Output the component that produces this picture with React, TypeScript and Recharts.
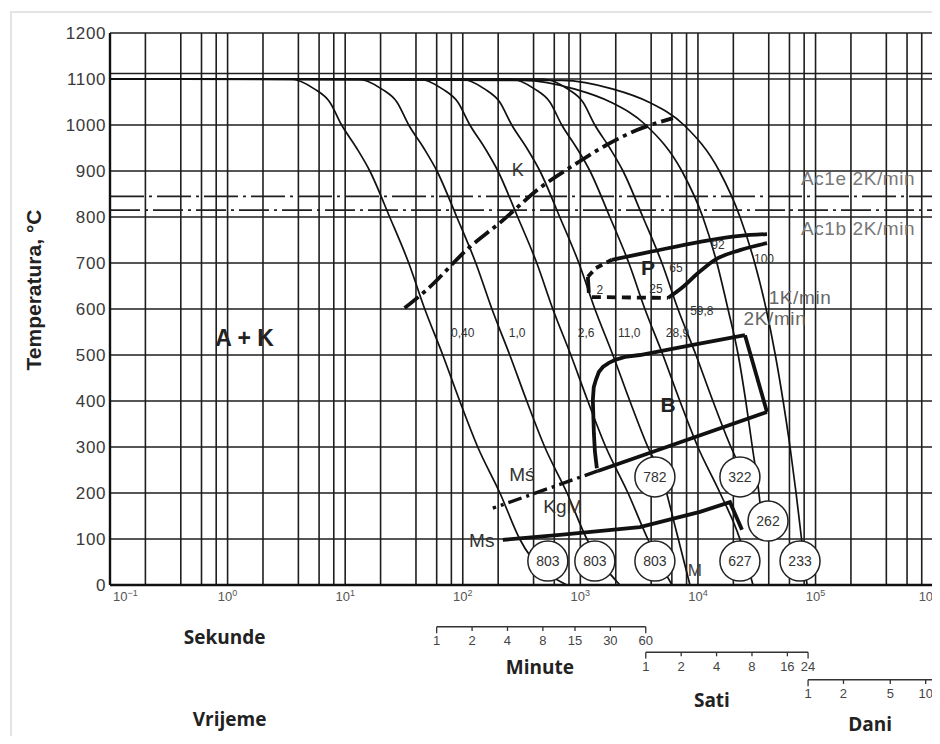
import React from 'react';
import {
  ComposedChart,
  Line,
  XAxis,
  YAxis,
  CartesianGrid,
  ReferenceLine,
  ReferenceDot,
} from 'recharts';

const FONT = '"Liberation Sans", Arial, Helvetica, sans-serif';
const BOLD_FONT = '"Open Sans", "Noto Sans", sans-serif';

// ---------- axes ----------
const timeGridTicks = [
  0.1, 0.2, 0.4, 0.6, 0.8,
  1, 2, 4, 6, 8,
  10, 20, 40, 60, 80,
  100, 200, 400, 600, 800,
  1000, 2000, 4000, 6000, 8000,
  10000, 20000, 40000, 60000, 80000,
  100000, 200000, 400000, 600000, 800000,
  1000000,
];
const tempTicks = [0, 100, 200, 300, 400, 500, 600, 700, 800, 900, 1000, 1100, 1200];

// secondary time scales (minutes, hours, days)
const minuteTicks = [1, 2, 4, 8, 15, 30, 60];
const hourTicks = [1, 2, 4, 8, 16, 24];
const dayTicks = [1, 2, 5, 10];

// ---------- cooling curves [time s, temperature °C] ----------
type Pt = [number, number];
const curve040: Pt[] = [
  [0.1, 1100], [3.37, 1100], [5.5, 1078], [7.38, 1050], [9.33, 1000], [12.5, 950], [16.2, 900],
  [23.9, 800], [34.7, 700], [47.5, 600], [67.6, 500], [94.2, 400], [134, 300], [207, 200], [305, 100], [767, 0],
];
const curve10: Pt[] = [
  [0.1, 1100], [12.5, 1100], [20.5, 1078], [27.5, 1050], [34.7, 1000], [46.5, 950], [60.3, 900],
  [88.9, 800], [129, 700], [177, 600], [251, 500], [350, 400], [498, 300], [770, 200], [1135, 100], [2170, 0],
];
const curve26: Pt[] = [
  [0.1, 1100], [41.4, 1100], [67.5, 1078], [90.6, 1050], [115, 1000], [154, 950], [199, 900],
  [293, 800], [426, 700], [583, 600], [830, 500], [1157, 400], [1646, 300], [2542, 200], [3745, 100], [6010, 0],
];
const curve110: Pt[] = [
  [0.1, 1100], [94.3, 1100], [154, 1078], [206, 1050], [261, 1000], [350, 950], [453, 900],
  [668, 800], [971, 700], [1329, 600], [1891, 500], [2635, 400], [3748, 300], [4943, 235], [6500, 120], [8550, 0],
];
const curve289: Pt[] = [
  [0.1, 1100], [251, 1100], [410, 1078], [550, 1050], [695, 1000], [931, 950], [1207, 900],
  [1781, 800], [2585, 700], [3539, 600], [5036, 500], [7018, 400], [9983, 300], [15420, 200], [22720, 100], [29370, 0],
];
const curve598: Pt[] = [
  [0.1, 1100], [480, 1100], [783, 1078], [1050, 1050], [1328, 1000], [1779, 950], [2305, 900],
  [3401, 800], [4938, 700], [6759, 600], [9619, 500], [13400, 400], [19070, 300], [25120, 235],
];
const curve2Kmin: Pt[] = [
  [0.1, 1100], [330, 1097], [900, 1078], [1800, 1050], [3600, 1000], [7300, 900], [11000, 800],
  [14500, 700], [18000, 600], [22000, 500], [25500, 400], [29000, 300], [33000, 200], [35000, 140],
];
const curve1Kmin: Pt[] = [
  [0.1, 1100], [700, 1097], [1900, 1078], [3800, 1050], [7600, 1000], [15200, 900], [22800, 800],
  [30400, 700], [38000, 600], [45500, 500], [53000, 400], [60700, 300], [68300, 200], [76000, 100], [84700, 0],
];
const coolingCurves = [curve040, curve10, curve26, curve110, curve289, curve598, curve2Kmin, curve1Kmin];

// ---------- transformation boundaries ----------
const carbideLine: Pt[] = [
  [32, 602], [49, 641], [115, 735], [206, 787], [452, 863], [933, 917], [1680, 957], [3030, 989], [6120, 1015],
];
const pearliteNose: Pt[] = [[1181, 635], [1158, 670]];
const pearliteStartDashed: Pt[] = [[1158, 670], [1355, 689], [1854, 707]];
const pearliteStart: Pt[] = [[1854, 707], [3900, 724], [10400, 746], [22750, 759], [38650, 763]];
const pearliteEndDashed: Pt[] = [[1253, 626], [5560, 624]];
const pearliteEnd: Pt[] = [[5560, 624], [7310, 646], [9800, 676], [13950, 707], [22750, 728], [38650, 743]];
const bainiteStart: Pt[] = [
  [1381, 254], [1330, 290], [1303, 330], [1277, 402], [1300, 430], [1356, 446], [1436, 463], [1554, 474],
  [1748, 483], [1966, 489], [2393, 496], [3209, 500], [9060, 522], [25120, 543],
];
const bainiteRight: Pt[] = [[25120, 543], [38650, 376]];
const bainiteEnd: Pt[] = [[38650, 376], [1409, 248]];
const msPrimeLine: Pt[] = [[1409, 248], [180, 167]];
const msLine: Pt[] = [[219, 98], [670, 109], [3209, 126], [10400, 159], [18720, 180], [23680, 120]];

// ---------- hardness values (HV) ----------
const hardness = [
  { t: 529, T: 52, v: '803' },
  { t: 1328, T: 52, v: '803' },
  { t: 4305, T: 52, v: '803' },
  { t: 4305, T: 235, v: '782' },
  { t: 22750, T: 235, v: '322' },
  { t: 22750, T: 52, v: '627' },
  { t: 39430, T: 139, v: '262' },
  { t: 73800, T: 52, v: '233' },
];

const toData = (pts: Pt[]) => pts.map(([t, T]) => ({ t, T }));

const renderXTick = (props: any) => {
  const { x, y, payload } = props;
  const lv = Math.log10(payload.value);
  const e = Math.round(lv);
  if (Math.abs(lv - e) > 0.001) return <g />;
  const first = e === -1;
  const last = e === 6;
  return (
    <text
      x={first ? x + 3 : last ? x + 5 : x}
      y={y + 8}
      textAnchor={first ? 'start' : last ? 'end' : 'middle'}
      fontSize={13}
      fill="#555"
      fontFamily={FONT}
    >
      10
      <tspan dy={-5} fontSize={9}>
        {e < 0 ? '−' + Math.abs(e) : String(e)}
      </tspan>
    </text>
  );
};

type NoteOpts = {
  size?: number;
  weight?: string | number;
  fill?: string;
  anchor?: 'start' | 'middle' | 'end';
  family?: string;
  spacing?: number;
};

const note = (key: string, t: number, T: number, text: string, o: NoteOpts = {}) => (
  <ReferenceDot
    key={key}
    x={t}
    y={T}
    r={0}
    fill="none"
    stroke="none"
    ifOverflow="visible"
    isFront
    label={{
      content: (p: any) => {
        const vb = p.viewBox || {};
        const cx = (vb.x ?? 0) + (vb.width ?? 0) / 2;
        const cy = (vb.y ?? 0) + (vb.height ?? 0) / 2;
        return (
          <text
            x={cx}
            y={cy}
            dy="0.35em"
            textAnchor={o.anchor || 'middle'}
            fontSize={o.size || 14}
            fontWeight={o.weight || 'normal'}
            fill={o.fill || '#333'}
            fontFamily={o.family || FONT}
            letterSpacing={o.spacing || 0}
          >
            {text}
          </text>
        );
      },
    }}
  />
);

const seg = (key: string, x1: number, y1: number, x2: number, y2: number, w = 1.5) => (
  <ReferenceLine
    key={key}
    segment={[{ x: x1, y: y1 }, { x: x2, y: y2 }]}
    stroke="#333"
    strokeWidth={w}
    ifOverflow="visible"
  />
);

const boundary = (key: string, pts: Pt[], dash?: string, type: any = 'linear', w = 3.8) => (
  <Line
    key={key}
    data={toData(pts)}
    dataKey="T"
    type={type}
    stroke="#111"
    strokeWidth={w}
    strokeDasharray={dash}
    dot={false}
    activeDot={false}
    legendType="none"
    isAnimationActive={false}
  />
);

const MIN_Y = -91;
const HOUR_Y = -146;
const DAY_Y = -206;

export default function App() {
  return (
    <div style={{ position: 'relative', width: 930, height: 728, overflow: 'hidden' }}>
      <div style={{ position: 'absolute', left: 2, top: 3, width: 928, height: 2, background: '#e4e4e4' }} />
      <div style={{ position: 'absolute', left: 2, top: 3, width: 2, height: 725, background: '#e4e4e4' }} />
      <div style={{ position: 'absolute', left: 4, top: 5 }}>
        <ComposedChart width={926} height={723} margin={{ top: 20, right: 0, left: 0, bottom: 121 }}>
          <CartesianGrid stroke="#1e1e1e" strokeWidth={1.6} />
          <XAxis
            dataKey="t"
            type="number"
            scale="log"
            domain={[0.1, 1.1e6]}
            allowDataOverflow
            ticks={timeGridTicks}
            interval={0}
            tick={renderXTick}
            tickLine={false}
            axisLine={{ stroke: '#111', strokeWidth: 2.4 }}
            height={30}
          />
          <YAxis
            type="number"
            domain={[0, 1200]}
            allowDataOverflow
            ticks={tempTicks}
            interval={0}
            width={98}
            tickLine={false}
            tickSize={2}
            tickMargin={2}
            axisLine={{ stroke: '#111', strokeWidth: 2.4 }}
            tick={{ fontSize: 17, fill: '#3a3a3a', fontFamily: FONT, letterSpacing: 0.6 }}
            label={{
              content: (p: any) => {
                const vb = p.viewBox || { x: 0, y: 20, width: 98, height: 552 };
                const x = vb.x + 21;
                const y = vb.y + vb.height / 2 - 19;
                return (
                  <text
                    x={x}
                    y={y}
                    transform={`rotate(-90 ${x} ${y})`}
                    textAnchor="middle"
                    dominantBaseline="central"
                    fontSize={21}
                    fontWeight="bold"
                    fontFamily={FONT}
                    fill="#222"
                  >
                    Temperatura, °C
                  </text>
                );
              },
            }}
          />

          {/* austenitizing and Ac1 lines */}
          <ReferenceLine y={1112} stroke="#1e1e1e" strokeWidth={1.6} />
          <ReferenceLine y={845} stroke="#1e1e1e" strokeWidth={1.8} strokeDasharray="34 5 3 5" />
          <ReferenceLine y={815} stroke="#1e1e1e" strokeWidth={1.8} strokeDasharray="30 5 3 5" />

          {/* cooling curves */}
          {coolingCurves.map((c, i) => (
            <Line
              key={'c' + i}
              data={toData(c)}
              dataKey="T"
              type="monotone"
              stroke="#111"
              strokeWidth={1.7}
              dot={false}
              activeDot={false}
              legendType="none"
              isAnimationActive={false}
            />
          ))}

          {/* phase boundaries */}
          {boundary('k', carbideLine, '18 5 4 5', 'monotone')}
          {boundary('pn', pearliteNose)}
          {boundary('psd', pearliteStartDashed, '7 5')}
          {boundary('ps', pearliteStart, undefined, 'monotone')}
          {boundary('ped', pearliteEndDashed, '9 6')}
          {boundary('pe', pearliteEnd, undefined, 'monotone')}
          {boundary('bs', bainiteStart)}
          {boundary('br', bainiteRight)}
          {boundary('be', bainiteEnd)}
          {boundary('msp', msPrimeLine, '14 5 3 5', 'linear', 3.4)}
          {boundary('ms', msLine, undefined, 'linear')}

          {/* hardness circles */}
          {hardness.map((h, i) => (
            <ReferenceDot
              key={'h' + i}
              x={h.t}
              y={h.T}
              r={20}
              fill="#fff"
              stroke="#222"
              strokeWidth={1.5}
              ifOverflow="visible"
              isFront
              label={{
                content: (p: any) => {
                  const vb = p.viewBox || {};
                  return (
                    <text
                      x={(vb.x ?? 0) + (vb.width ?? 0) / 2}
                      y={(vb.y ?? 0) + (vb.height ?? 0) / 2}
                      dy="0.35em"
                      textAnchor="middle"
                      fontSize={14}
                      fill="#333"
                      fontFamily={FONT}
                    >
                      {h.v}
                    </text>
                  );
                },
              }}
            />
          ))}

          {/* region and curve labels */}
          {note('ak', 1.395, 537, 'A + K', { size: 23, weight: 'bold', fill: '#222' })}
          {note('K', 294, 902, 'K', { size: 18 })}
          {note('P', 3753, 689, 'P', { size: 21, weight: 'bold', fill: '#222' })}
          {note('B', 5560, 393, 'B', { size: 21, weight: 'bold', fill: '#222' })}
          {note('Ms', 145, 96, 'Ms', { size: 19 })}
          {note('Msp', 318, 241, 'Mś', { size: 19 })}
          {note('KgM', 710, 170, 'KgM', { size: 19 })}
          {note('M', 9420, 33, 'M', { size: 17, fill: '#444' })}
          {note('l1', 100, 548, '0,40', { size: 12 })}
          {note('l2', 290, 548, '1,0', { size: 12 })}
          {note('l3', 1120, 548, '2,6', { size: 12 })}
          {note('l4', 2600, 548, '11,0', { size: 12 })}
          {note('l5', 6700, 548, '28,9', { size: 12 })}
          {note('l6', 10800, 596, '59,8', { size: 12 })}
          {note('p2', 1466, 641, '2', { size: 12 })}
          {note('p25', 4395, 643, '25', { size: 12 })}
          {note('p65', 6500, 689, '65', { size: 12 })}
          {note('p92', 14790, 739, '92', { size: 12 })}
          {note('p100', 36470, 709, '100', { size: 12 })}
          {note('k1', 73800, 626, '1K/min', { size: 19, fill: '#666', spacing: 0.6 })}
          {note('k2', 45200, 580, '2K/min', { size: 19, fill: '#666', spacing: 0.6 })}
          {note('ac1e', 230000, 885, 'Ac1e 2K/min', { size: 19, fill: '#777', spacing: 0.6 })}
          {note('ac1b', 230000, 776, 'Ac1b 2K/min', { size: 19, fill: '#777', spacing: 0.6 })}

          {/* secondary time scales */}
          {seg('minL', 60, MIN_Y, 3600, MIN_Y)}
          {minuteTicks.map((m, i) =>
            seg('minT' + i, m * 60, MIN_Y, m * 60, MIN_Y - (i === 0 || i === minuteTicks.length - 1 ? 14 : 9), 1.3)
          )}
          {minuteTicks.map((m) => note('minN' + m, m * 60, -121, String(m), { size: 13, fill: '#444' }))}
          {seg('hL', 3600, HOUR_Y, 86400, HOUR_Y)}
          {hourTicks.map((h, i) =>
            seg('hT' + i, h * 3600, HOUR_Y, h * 3600, HOUR_Y - (i === 0 || i === hourTicks.length - 1 ? 14 : 9), 1.3)
          )}
          {hourTicks.map((h) => note('hN' + h, h * 3600, -176, String(h), { size: 13, fill: '#444' }))}
          {seg('dL', 86400, DAY_Y, 1.1e6, DAY_Y)}
          {dayTicks.map((d, i) => seg('dT' + i, d * 86400, DAY_Y, d * 86400, DAY_Y - (i === 0 ? 14 : 9), 1.3))}
          {dayTicks.map((d) => note('dN' + d, d * 86400, -236, String(d), { size: 13, fill: '#444' }))}

          {note('sek', 0.943, -113, 'Sekunde', { size: 19, weight: 'bold', fill: '#222', family: BOLD_FONT })}
          {note('min', 452, -180, 'Minute', { size: 19, weight: 'bold', fill: '#222', family: BOLD_FONT })}
          {note('sati', 13150, -250, 'Sati', { size: 19, weight: 'bold', fill: '#222', family: BOLD_FONT })}
          {note('dani', 291000, -304, 'Dani', { size: 19, weight: 'bold', fill: '#222', family: BOLD_FONT })}
          {note('vri', 1.04, -293, 'Vrijeme', { size: 19, weight: 'bold', fill: '#222', family: BOLD_FONT })}
        </ComposedChart>
      </div>
    </div>
  );
}
